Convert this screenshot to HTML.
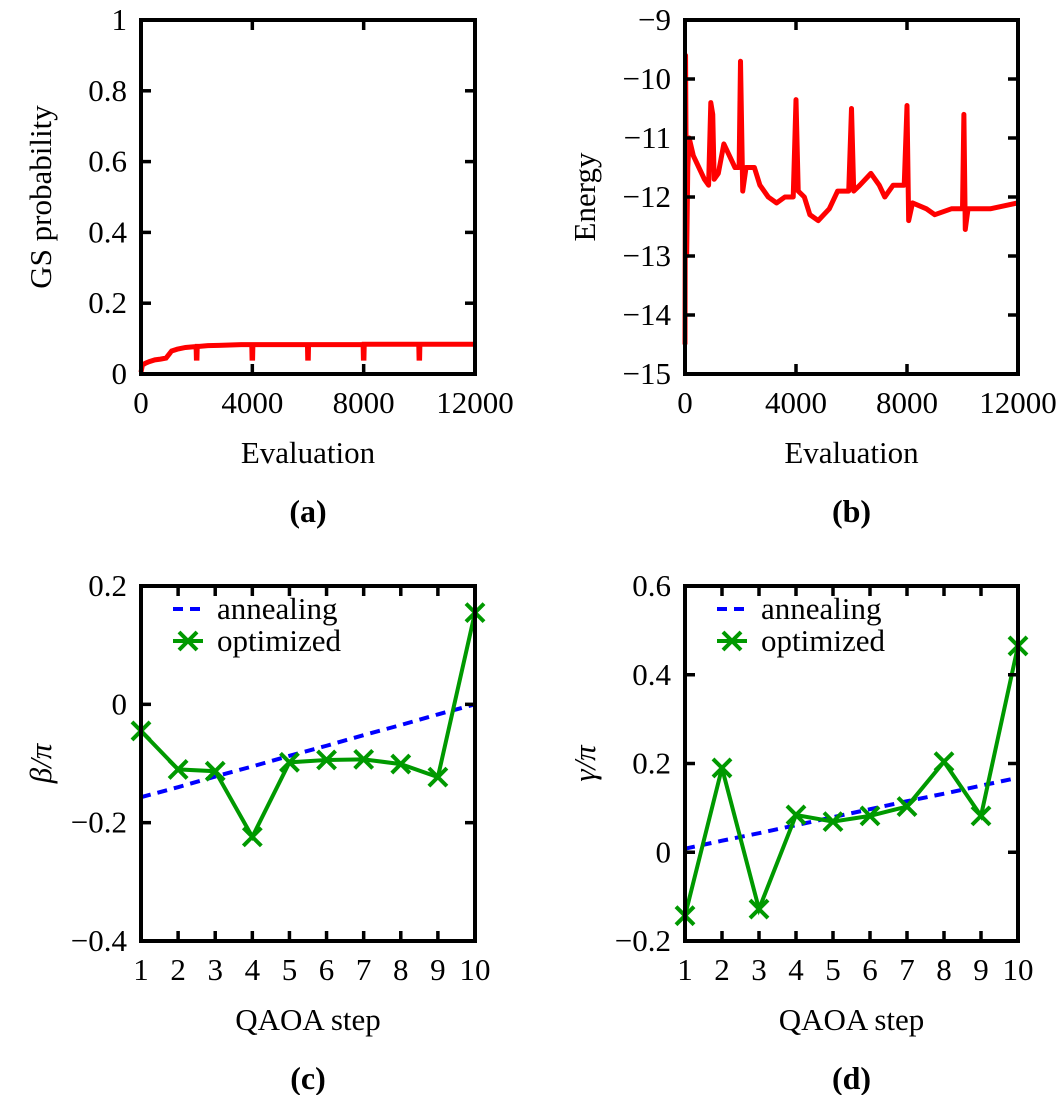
<!DOCTYPE html>
<html><head><meta charset="utf-8"><style>
html,body{margin:0;padding:0;background:#fff;}
svg{display:block;font-family:"Liberation Serif",serif;}
</style></head><body>
<svg id="fig" width="1061" height="1095" viewBox="0 0 1061 1095" xmlns="http://www.w3.org/2000/svg"></svg>
<script>
// Panel (a): GS probability vs evaluation
const gsEval = [0,50,150,300,500,700,900,1000,1100,1300,1600,1900,1980,1990,2010,2020,2100,2400,2800,3200,3600,3980,3990,4010,4020,4100,5000,5980,5990,6010,6020,6100,7000,7980,7990,8010,8020,8100,9000,9980,9990,10010,10020,10100,11000,12000];
const gsProb = [0.005,0.025,0.03,0.035,0.04,0.042,0.045,0.055,0.065,0.07,0.075,0.077,0.077,0.045,0.045,0.078,0.078,0.08,0.081,0.082,0.083,0.083,0.045,0.045,0.083,0.083,0.083,0.083,0.045,0.045,0.083,0.083,0.083,0.083,0.045,0.045,0.084,0.084,0.084,0.084,0.045,0.045,0.084,0.084,0.084,0.084];
// Panel (b): Energy vs evaluation
const enEval = [0,20,60,100,150,300,500,700,850,930,1000,1050,1200,1400,1600,1800,1950,2000,2080,2200,2500,2700,3000,3300,3600,3900,4000,4080,4300,4500,4800,5200,5500,5900,6000,6080,6300,6700,7000,7200,7500,7900,8000,8060,8200,8700,9000,9600,10000,10050,10100,10200,11000,12000];
const enVal = [-14.5,-9.6,-13.0,-11.5,-11.0,-11.3,-11.5,-11.7,-11.8,-10.4,-10.6,-11.7,-11.6,-11.1,-11.3,-11.5,-11.5,-9.7,-11.9,-11.5,-11.5,-11.8,-12.0,-12.1,-12.0,-12.0,-10.35,-11.9,-12.0,-12.3,-12.4,-12.2,-11.9,-11.9,-10.5,-11.9,-11.8,-11.6,-11.8,-12.0,-11.8,-11.8,-10.45,-12.4,-12.1,-12.2,-12.3,-12.2,-12.2,-10.6,-12.55,-12.2,-12.2,-12.1];
// Panel (c)/(d): QAOA steps
const steps = [1,2,3,4,5,6,7,8,9,10];
const betaOpt = [-0.045,-0.11,-0.113,-0.224,-0.098,-0.094,-0.093,-0.101,-0.123,0.155];
const betaAnn = [-0.157,-0.14,-0.122,-0.105,-0.087,-0.07,-0.052,-0.035,-0.017,0.0];
const gammaOpt = [-0.143,0.19,-0.128,0.084,0.069,0.082,0.103,0.204,0.082,0.465];
const gammaAnn = [0.008,0.026,0.043,0.061,0.079,0.097,0.115,0.132,0.15,0.168];
const ticksA = [0,0.2,0.4,0.6,0.8,1];
const ticksALab = ["0","0.2","0.4","0.6","0.8","1"];
const ticksB = [-15,-14,-13,-12,-11,-10,-9];
const ticksBLab = ["−15","−14","−13","−12","−11","−10","−9"];
const ticksEval = [0,4000,8000,12000];
const ticksEvalLab = ["0","4000","8000","12000"];
const ticksC = [-0.4,-0.2,0,0.2];
const ticksCLab = ["−0.4","−0.2","0","0.2"];
const ticksD = [-0.2,0,0.2,0.4,0.6];
const ticksDLab = ["−0.2","0","0.2","0.4","0.6"];

const NS="http://www.w3.org/2000/svg";
const svg=document.getElementById('fig');
function mk(tag,attrs,parent){const e=document.createElementNS(NS,tag);for(const k in attrs)e.setAttribute(k,attrs[k]);(parent||svg).appendChild(e);return e;}
function txt(s,x,y,size,anchor,parent,weight){const t=mk('text',{x:x,y:y,'font-size':size,'text-anchor':anchor||'middle'},parent);if(weight)t.setAttribute('font-weight',weight);t.textContent=s;return t;}

function panel(o){
  const g=mk('g',{});
  
  
  const sx=v=>o.x0+(v-o.xmin)/(o.xmax-o.xmin)*(o.x1-o.x0);
  const sy=v=>o.y1-(v-o.ymin)/(o.ymax-o.ymin)*(o.y1-o.y0);
  o.draw(g,sx,sy);
  const fr=mk('rect',{x:o.x0,y:o.y0,width:o.x1-o.x0,height:o.y1-o.y0,fill:'none',stroke:'#000','stroke-width':4},g);
  
  
  o.yt.forEach((v,i)=>{const y=sy(v);
    if(i>0&&i<o.yt.length-1){mk('line',{x1:o.x0,x2:o.x0+10,y1:y,y2:y,stroke:'#000','stroke-width':3.5},g);mk('line',{x1:o.x1-10,x2:o.x1,y1:y,y2:y,stroke:'#000','stroke-width':3.5},g);}
    const t=txt(o.ytl[i],o.x0-14,y+10,31,'end',g);
    
    
  });
  o.xt.forEach((v,i)=>{const x=sx(v);
    if(i>0&&i<o.xt.length-1){mk('line',{x1:x,x2:x,y1:o.y1,y2:o.y1-10,stroke:'#000','stroke-width':3.5},g);mk('line',{x1:x,x2:x,y1:o.y0,y2:o.y0+10,stroke:'#000','stroke-width':3.5},g);}
    const t=txt(o.xtl[i],x,o.y1+39,31,'middle',g);
    
    
  });
  const xl=txt(o.xlabel,(o.x0+o.x1)/2,o.y1+89,31,'middle',g);
  
  
  const yl=txt(o.ylabel,0,0,31,'middle',g);
  yl.setAttribute('transform','translate('+(o.x0-90)+','+((o.y0+o.y1)/2)+') rotate(-90)');
  if(o.ylItalic) yl.setAttribute('font-style','italic');
  
  
  const cap=txt(o.cap,(o.x0+o.x1)/2,o.y1+148,32,'middle',g,'bold');
  
  
}
function poly(g,xs,ys,sx,sy,attrs,name){
  const p=mk('polyline',Object.assign({points:xs.map((x,i)=>sx(x)+','+sy(ys[i])).join(' '),fill:'none'},attrs),g);
  
  
  return p;
}
function cross(g,x,y,c){
  const m=mk('path',{d:`M${x-9},${y-9}L${x+9},${y+9}M${x-9},${y+9}L${x+9},${y-9}`,stroke:c,'stroke-width':4},g);
  
  
}
function legend(g,x,y){
  const l=mk('g',{},g);
  
  
  mk('line',{x1:x,x2:x+30,y1:y,y2:y,stroke:'#0000ff','stroke-width':4,'stroke-dasharray':'10,7'},l);
  txt('annealing',x+44,y+10,31,'start',l);
  mk('line',{x1:x,x2:x+30,y1:y+32,y2:y+32,stroke:'#009900','stroke-width':4},l);
  cross(l,x+15,y+32,'#009900');
  txt('optimized',x+44,y+42,31,'start',l);
}

panel({name:'panel-a',x0:141,x1:475,y0:20,y1:374,xmin:0,xmax:12000,ymin:0,ymax:1,
  yt:ticksA,ytl:ticksALab,xt:ticksEval,xtl:ticksEvalLab,xlabel:'Evaluation',ylabel:'GS probability',cap:'(a)',
  draw:(g,sx,sy)=>poly(g,gsEval,gsProb,sx,sy,{stroke:'#ff0000','stroke-width':5},'gs-probability-line')});
panel({name:'panel-b',x0:685,x1:1018,y0:20,y1:374,xmin:0,xmax:12000,ymin:-15,ymax:-9,
  yt:ticksB,ytl:ticksBLab,xt:ticksEval,xtl:ticksEvalLab,xlabel:'Evaluation',ylabel:'Energy',cap:'(b)',
  draw:(g,sx,sy)=>poly(g,enEval,enVal,sx,sy,{stroke:'#ff0000','stroke-width':5,'stroke-linejoin':'round'},'energy-line')});
panel({name:'panel-c',x0:141,x1:475,y0:586,y1:941,xmin:1,xmax:10,ymin:-0.4,ymax:0.2,
  yt:ticksC,ytl:ticksCLab,xt:steps,xtl:steps.map(String),xlabel:'QAOA step',ylabel:'β/π',ylItalic:true,cap:'(c)',
  draw:(g,sx,sy)=>{poly(g,steps,betaAnn,sx,sy,{stroke:'#0000ff','stroke-width':4,'stroke-dasharray':'10,7'},'annealing-line');
    poly(g,steps,betaOpt,sx,sy,{stroke:'#009900','stroke-width':4},'optimized-line');
    steps.forEach((s,i)=>cross(g,sx(s),sy(betaOpt[i]),'#009900'));legend(g,173,609);}});
panel({name:'panel-d',x0:685,x1:1018,y0:586,y1:941,xmin:1,xmax:10,ymin:-0.2,ymax:0.6,
  yt:ticksD,ytl:ticksDLab,xt:steps,xtl:steps.map(String),xlabel:'QAOA step',ylabel:'γ/π',ylItalic:true,cap:'(d)',
  draw:(g,sx,sy)=>{poly(g,steps,gammaAnn,sx,sy,{stroke:'#0000ff','stroke-width':4,'stroke-dasharray':'10,7'},'annealing-line');
    poly(g,steps,gammaOpt,sx,sy,{stroke:'#009900','stroke-width':4},'optimized-line');
    steps.forEach((s,i)=>cross(g,sx(s),sy(gammaOpt[i]),'#009900'));legend(g,717,609);}});
</script>
</body></html>
